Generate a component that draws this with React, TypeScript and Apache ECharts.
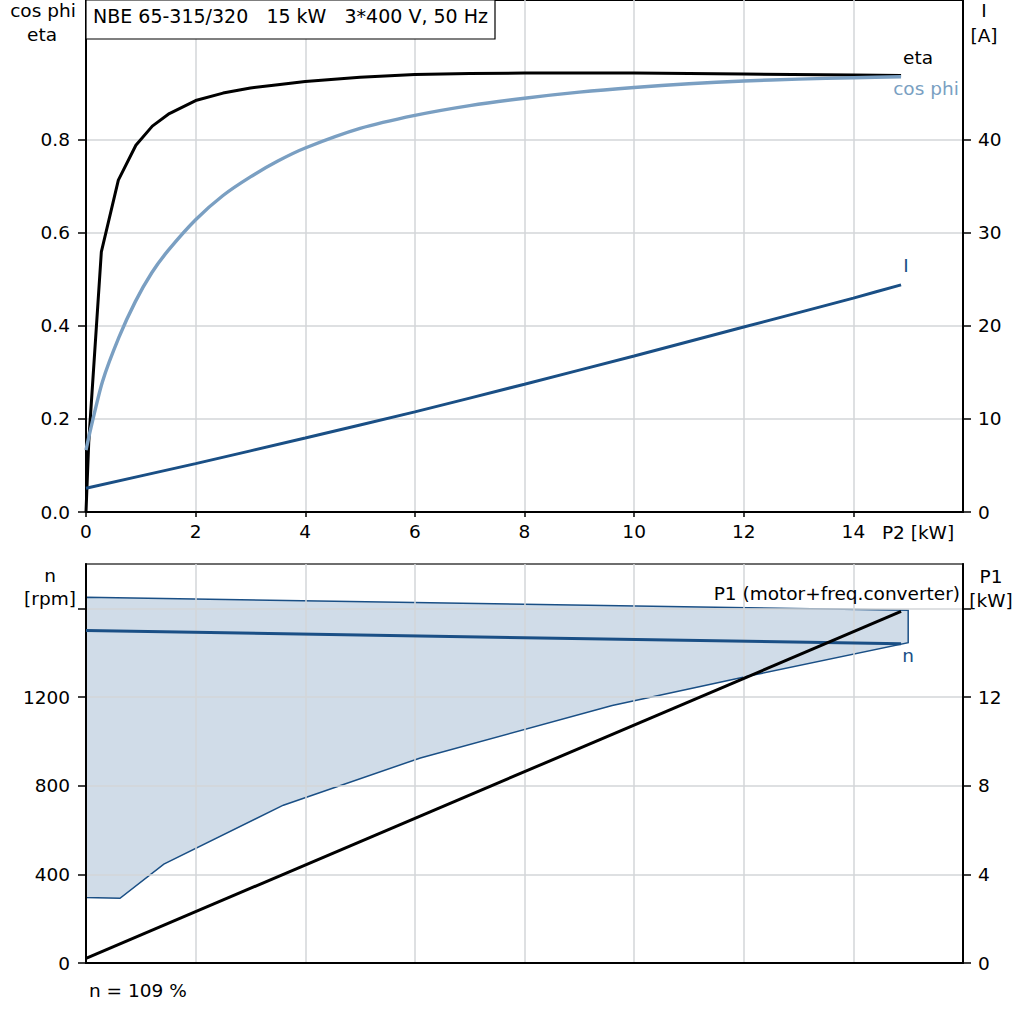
import React, { useEffect, useRef } from "react";
import * as echarts from "echarts";

const FONT = "DejaVu Sans";
const FS = 18.5;
const GRID_COLOR = "#d3d6d9";
const BLUE = "#1a4f85";
const LIGHT_BLUE = "#7a9fc2";

// tick / label values
const P2_TICKS = [0, 2, 4, 6, 8, 10, 12, 14];
const COS_ETA_TICKS = [0, 0.2, 0.4, 0.6, 0.8];
const I_TICKS = [0, 10, 20, 30, 40];
const RPM_LABELS = [0, 400, 800, 1200];
const RPM_TICKS = [0, 400, 800, 1200, 1600];
const P1_LABELS = [0, 4, 8, 12];
const P1_TICKS = [0, 4, 8, 12, 16];

// eta curve
const etaP2 = [0, 0.05, 0.28, 0.59, 0.91, 1.21, 1.52, 2, 2.5, 3, 3.5, 4, 5, 6, 7, 8, 10, 12, 14, 14.87];
const etaValues = [0, 0.15, 0.559, 0.713, 0.788, 0.829, 0.856, 0.884, 0.9, 0.911, 0.918, 0.925, 0.934, 0.94, 0.942, 0.943, 0.943, 0.941, 0.939, 0.938];

// cos phi curve
const cosPhiP2 = [0, 0.09, 0.3, 0.6, 0.9, 1.2, 1.5, 2, 2.5, 3, 3.5, 4, 5, 6, 7, 8, 9, 10, 11, 12, 13, 14, 14.87];
const cosPhiValues = [0.133, 0.181, 0.28, 0.375, 0.452, 0.514, 0.562, 0.628, 0.68, 0.72, 0.754, 0.782, 0.824, 0.852, 0.873, 0.889, 0.902, 0.912, 0.92, 0.926, 0.93, 0.933, 0.935];

// current I [A]
const currentP2 = [0, 2, 4, 6, 8, 10, 12, 14, 14.87];
const currentValues = [2.55, 5.2, 7.95, 10.76, 13.73, 16.76, 19.87, 22.98, 24.4];

// speed n [rpm]
const speedP2 = [0, 14.87];
const speedValues = [1500, 1440];

// P1 [kW]
const p1P2 = [0, 14.87];
const p1Values = [0.21, 15.86];

// speed band
const bandUpperP2 = [0, 15.0];
const bandUpperRpm = [1650, 1591];
const bandLowerP2 = [0, 0.62, 1.42, 3.6, 6.1, 9.6, 12.2, 15.0];
const bandLowerRpm = [295, 292, 446, 712, 925, 1162, 1300, 1445];

const pairs = (xs: number[], ys: number[]) => xs.map((x, i) => [x, ys[i]]);

const labelStyle = { color: "#000", fontFamily: FONT, fontSize: FS };

function txt(text: string, x: number, y: number, align = "center", color = "#000", size = FS) {
  return {
    type: "text",
    z: 100,
    x,
    y,
    style: {
      text,
      fill: color,
      font: `${size}px "${FONT}"`,
      textAlign: align,
      textVerticalAlign: "middle",
    },
  };
}

export default function App() {
  const ref = useRef<HTMLDivElement>(null);
  useEffect(() => {
    if (!ref.current) return;
    const chart = echarts.init(ref.current, undefined, { renderer: "svg" });
    const axisLine = { show: true, onZero: false, lineStyle: { color: "#000", width: 2 } };
    const tickStyle = { color: "#000", width: 1.5 };
    const split = { show: true, lineStyle: { color: GRID_COLOR, width: 1.5 } };
    const option: any = {
      animation: false,
      backgroundColor: "#fff",
      textStyle: { fontFamily: FONT },
      grid: [
        { left: 86, top: 0, width: 877, height: 512, show: true, borderColor: "#000", borderWidth: 2 },
        { left: 86, top: 564, width: 877, height: 399, show: true, borderColor: "#6e6e6e", borderWidth: 2 },
      ],
      xAxis: [
        {
          gridIndex: 0, type: "value", min: 0, max: 16, interval: 2,
          axisLine,
          axisTick: { show: true, length: 5, customValues: P2_TICKS, lineStyle: tickStyle },
          axisLabel: { ...labelStyle, customValues: P2_TICKS, margin: 10 },
          splitLine: split,
        },
        {
          gridIndex: 1, type: "value", min: 0, max: 16, interval: 2,
          axisLine,
          axisTick: { show: false },
          axisLabel: { show: false },
          splitLine: split,
        },
      ],
      yAxis: [
        {
          gridIndex: 0, type: "value", position: "left", min: 0, max: 1.1, interval: 0.1,
          axisLine,
          axisTick: { show: true, length: 8, customValues: COS_ETA_TICKS, lineStyle: tickStyle },
          axisLabel: { ...labelStyle, customValues: COS_ETA_TICKS, margin: 16, formatter: (v: number) => v.toFixed(1) },
          splitLine: split,
        },
        {
          gridIndex: 0, type: "value", position: "right", min: 0, max: 55, interval: 5,
          axisLine,
          axisTick: { show: true, length: 8, customValues: I_TICKS, lineStyle: tickStyle },
          axisLabel: { ...labelStyle, customValues: I_TICKS, margin: 15 },
          splitLine: { show: false },
        },
        {
          gridIndex: 1, type: "value", position: "left", min: 0, max: 1800, interval: 200,
          axisLine,
          axisTick: { show: true, length: 8, customValues: RPM_TICKS, lineStyle: tickStyle },
          axisLabel: { ...labelStyle, customValues: RPM_LABELS, margin: 16, formatter: (v: number) => String(v) },
          splitLine: split,
        },
        {
          gridIndex: 1, type: "value", position: "right", min: 0, max: 18, interval: 2,
          axisLine,
          axisTick: { show: true, length: 8, customValues: P1_TICKS, lineStyle: tickStyle },
          axisLabel: { ...labelStyle, customValues: P1_LABELS, margin: 15 },
          splitLine: { show: false },
        },
      ],
      series: [
        {
          name: "eta", type: "line", xAxisIndex: 0, yAxisIndex: 0, data: pairs(etaP2, etaValues),
          showSymbol: false, symbol: "none", smooth: false,
          lineStyle: { color: "#000", width: 3 }, z: 3,
        },
        {
          name: "cos phi", type: "line", xAxisIndex: 0, yAxisIndex: 0, data: pairs(cosPhiP2, cosPhiValues),
          showSymbol: false, symbol: "none", smooth: 0.25,
          lineStyle: { color: LIGHT_BLUE, width: 3.4 }, z: 4,
        },
        {
          name: "I", type: "line", xAxisIndex: 0, yAxisIndex: 1, data: pairs(currentP2, currentValues),
          showSymbol: false, symbol: "none", smooth: 0.2,
          lineStyle: { color: BLUE, width: 3 }, z: 5,
        },
        {
          name: "band", type: "custom", xAxisIndex: 1, yAxisIndex: 2, data: [[0, 0]], z: -1, silent: true,
          renderItem: (_params: any, api: any) => {
            const upper = bandUpperP2.map((x, i) => api.coord([x, bandUpperRpm[i]]));
            const lower = bandLowerP2.map((x, i) => api.coord([x, bandLowerRpm[i]])).reverse();
            return {
              type: "polygon",
              shape: { points: upper.concat(lower) },
              style: { fill: "#d0dce8", stroke: BLUE, lineWidth: 1.5 },
            };
          },
        },
        {
          name: "n", type: "line", xAxisIndex: 1, yAxisIndex: 2, data: pairs(speedP2, speedValues),
          showSymbol: false, symbol: "none",
          lineStyle: { color: BLUE, width: 3 }, z: 3,
        },
        {
          name: "P1", type: "line", xAxisIndex: 1, yAxisIndex: 3, data: pairs(p1P2, p1Values),
          showSymbol: false, symbol: "none",
          lineStyle: { color: "#000", width: 3 }, z: 4,
        },
      ],
      graphic: [
        {
          type: "rect", z: 99, shape: { x: 86, y: 0, width: 409, height: 39 },
          style: { fill: "#fff", stroke: "#000", lineWidth: 1.2 },
        },
        txt("NBE 65-315/320   15 kW   3*400 V, 50 Hz", 93, 16, "left", "#000", 19),
        txt("cos phi", 43, 10.5),
        txt("eta", 42, 34.5),
        txt("I", 984, 10),
        txt("[A]", 984, 35),
        txt("P2 [kW]", 918, 532),
        txt("eta", 918, 57.5),
        txt("cos phi", 926, 88, "center", LIGHT_BLUE),
        txt("I", 906, 265, "center", BLUE),
        txt("n", 50, 575),
        txt("[rpm]", 50, 598),
        txt("P1", 991, 576),
        txt("[kW]", 991, 600),
        txt("P1 (motor+freq.converter)", 960, 593, "right"),
        txt("n", 908, 655.5, "center", BLUE),
        txt("n = 109 %", 89, 990, "left"),
      ],
    };
    chart.setOption(option);
    return () => chart.dispose();
  }, []);
  return (
    <div
      ref={ref}
      style={{ position: "fixed", left: 0, top: 0, width: 1024, height: 1024, background: "#fff" }}
    />
  );
}
